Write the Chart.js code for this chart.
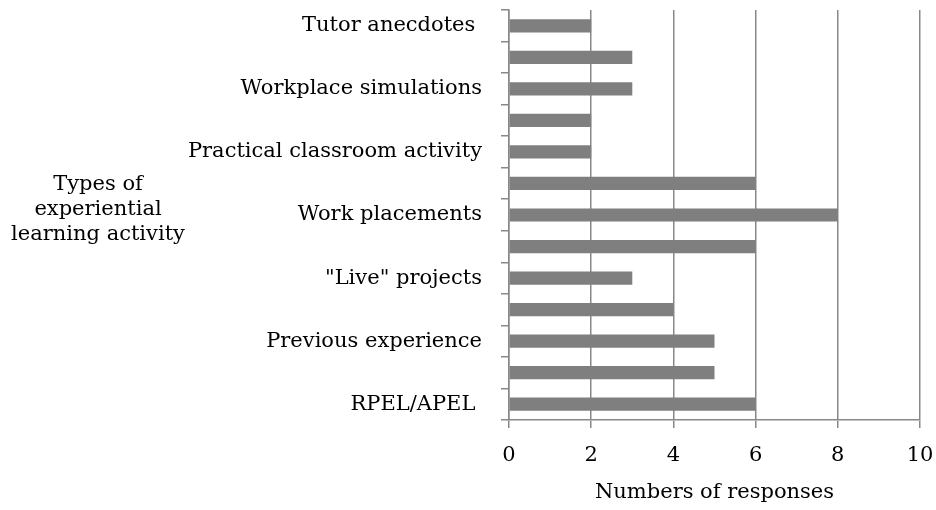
<!DOCTYPE html>
<html>
<head>
<meta charset="utf-8">
<script src="https://cdn.jsdelivr.net/npm/chart.js@4/dist/chart.umd.min.js"></script>
<style>
  html, body { margin: 0; padding: 0; background: #fff; }
  #wrap { width: 936px; height: 510px; position: relative; }
</style>
</head>
<body>
<div id="wrap"><canvas id="responsesChart"></canvas></div>
<script>
// Data (top to bottom). Unlabelled rows are categories whose names were skipped on the axis.
const activities = [
  "Tutor anecdotes ", "", "Workplace simulations", "", "Practical classroom activity",
  "", "Work placements", "", "\"Live\" projects", "", "Previous experience", "", "RPEL/APEL "
];
const responses = [2, 3, 3, 2, 2, 6, 8, 6, 3, 4, 5, 5, 6];
const xTicks = [0, 2, 4, 6, 8, 10];
const yTitleLines = ["Types of", "experiential", "learning activity"];
const xTitle = "Numbers of responses";

const FONT = "'DejaVu Serif', 'Liberation Serif', serif";
const GRID = "#888888";

// draws the horizontal, three-line y axis title left of the labels
const yTitlePlugin = {
  id: "yTitle",
  afterDraw(chart) {
    const { ctx, chartArea } = chart;
    const mid = (chartArea.top + chartArea.bottom) / 2;
    ctx.save();
    ctx.font = "21px " + FONT;
    ctx.fillStyle = "#000";
    ctx.textAlign = "center";
    ctx.textBaseline = "alphabetic";
    yTitleLines.forEach((line, i) => {
      ctx.fillText(line, 98, mid - 25 + i * 25);
    });
    ctx.restore();
  },
};

const ctx = document.getElementById("responsesChart").getContext("2d");
const responsesChart = new Chart(ctx, {
  type: "bar",
  data: {
    labels: activities,
    datasets: [
      {
        data: responses,
        backgroundColor: "#7f7f7f",
        borderWidth: 0,
        categoryPercentage: 1,
        barPercentage: 0.42,
      },
    ],
  },
  options: {
    indexAxis: "y",
    responsive: true,
    maintainAspectRatio: false,
    animation: false,
    layout: {
      padding: { top: 10, right: 16, bottom: 0, left: 0 },
    },
    plugins: {
      legend: { display: false },
      tooltip: { enabled: false },
    },
    scales: {
      x: {
        min: 0,
        max: 10,
        afterFit(scale) {
          scale.height = 90;
          scale.paddingLeft = 0;
          scale.paddingRight = 0;
        },
        afterBuildTicks(scale) {
          scale.ticks = xTicks.map((v) => ({ value: v }));
        },
        grid: {
          color: GRID,
          lineWidth: 1.5,
          drawTicks: true,
          tickLength: 8,
        },
        border: { color: GRID, width: 1.5 },
        ticks: {
          color: "#000",
          font: { family: FONT, size: 21 },
          padding: 15,
        },
        title: {
          display: true,
          text: xTitle,
          color: "#000",
          font: { family: FONT, size: 21 },
          padding: { top: 0, bottom: 5 },
        },
      },
      y: {
        afterFit(scale) {
          scale.width = 509;
          scale.paddingTop = 0;
          scale.paddingBottom = 0;
        },
        grid: {
          offset: true,
          drawOnChartArea: false,
          drawTicks: true,
          tickLength: 8,
          color: GRID,
          lineWidth: 1.5,
        },
        border: { color: GRID, width: 1.5 },
        ticks: {
          autoSkip: false,
          color: "#000",
          font: { family: FONT, size: 21 },
          padding: 19,
        },
      },
    },
  },
  plugins: [yTitlePlugin],
});
</script>
</body>
</html>
